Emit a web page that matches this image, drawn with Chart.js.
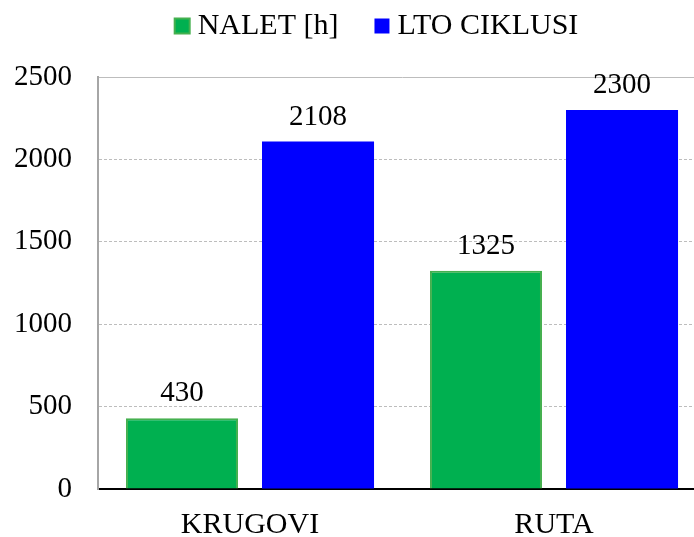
<!DOCTYPE html>
<html>
<head>
<meta charset="utf-8">
<script src="https://cdn.jsdelivr.net/npm/chart.js@4.4.1/dist/chart.umd.min.js"></script>
<style>
html,body{margin:0;padding:0;background:#fff;overflow:hidden;width:694px;height:537px;}
#wrap{position:absolute;left:0;top:0;width:706px;height:537px;}
</style>
</head>
<body>
<div id="wrap"><canvas id="c" width="706" height="537"></canvas></div>
<script>
const categories = ["KRUGOVI", "RUTA"];
const naletValues = [430, 1325];
const ltoValues = [2108, 2300];
const seriesNames = ["NALET [h]", "LTO CIKLUSI"];
const yTicks = [0, 500, 1000, 1500, 2000, 2500];

const SERIF = "'Liberation Serif', 'Times New Roman', serif";

const valueLabels = {
  id: 'valueLabels',
  afterDatasetsDraw(chart) {
    const ctx = chart.ctx;
    ctx.save();
    ctx.font = "29px " + SERIF;
    ctx.fillStyle = "#000";
    ctx.textAlign = "center";
    ctx.textBaseline = "alphabetic";
    chart.data.datasets.forEach((ds, di) => {
      const meta = chart.getDatasetMeta(di);
      meta.data.forEach((el, i) => {
        ctx.fillText(String(ds.data[i]), el.x, el.y - 17);
      });
    });
    ctx.restore();
  }
};

const legendFrame = {
  id: 'legendFrame',
  beforeLayout(chart) {
    const lg = chart.legend;
    if (lg && !lg._framed) {
      lg._framed = true;
      const fit = lg.fit;
      lg.fit = function () { fit.call(this); this.height = 77; };
      const draw = lg.draw;
      lg.draw = function () {
        this.ctx.save();
        this.ctx.translate(27, -32);
        draw.call(this);
        this.ctx.restore();
      };
    }
  }
};

new Chart(document.getElementById('c'), {
  type: 'bar',
  data: {
    labels: categories,
    datasets: [
      {
        label: seriesNames[0],
        data: naletValues,
        backgroundColor: '#00B050',
        borderColor: '#45B04F',
        borderWidth: 2,
        barPercentage: 0.8235,
        categoryPercentage: 0.895
      },
      {
        label: seriesNames[1],
        data: ltoValues,
        backgroundColor: '#0000FF',
        borderColor: '#0000FF',
        borderWidth: 0,
        barPercentage: 0.8235,
        categoryPercentage: 0.895
      }
    ]
  },
  options: {
    responsive: false,
    animation: false,
    devicePixelRatio: 1,
    layout: { padding: { top: 0, left: 0, right: 0, bottom: 0 } },
    plugins: {
      legend: {
        display: true,
        position: 'top',
        labels: {
          font: { family: SERIF, size: 30 },
          color: '#000',
          usePointStyle: true,
          pointStyle: 'rect',
          boxWidth: 1,
          boxHeight: 15,
          padding: 43
        }
      },
      tooltip: { enabled: false }
    },
    scales: {
      x: {
        grid: { display: false, drawTicks: false },
        border: { display: true, color: '#000', width: 2 },
        ticks: {
          font: { family: SERIF, size: 30 },
          color: '#000',
          padding: 18
        },
        afterFit(scale) { scale.height = 48; }
      },
      y: {
        min: 0,
        max: 2500,
        afterBuildTicks(scale) { scale.ticks = yTicks.map(v => ({ value: v })); },
        grid: {
          color: '#BDBDBD',
          lineWidth: 1,
          drawTicks: false
        },
        border: {
          display: true, color: '#A6A6A6', width: 2,
          dash: (c) => (c.tick && c.tick.value === 2500) ? [] : [3, 2]
        },
        ticks: {
          font: { family: SERIF, size: 29 },
          color: '#000',
          padding: 26,
          callback: (v) => String(v)
        },
        afterFit(scale) { scale.width = 98; }
      }
    }
  },
  plugins: [legendFrame, valueLabels]
});
</script>
</body>
</html>
